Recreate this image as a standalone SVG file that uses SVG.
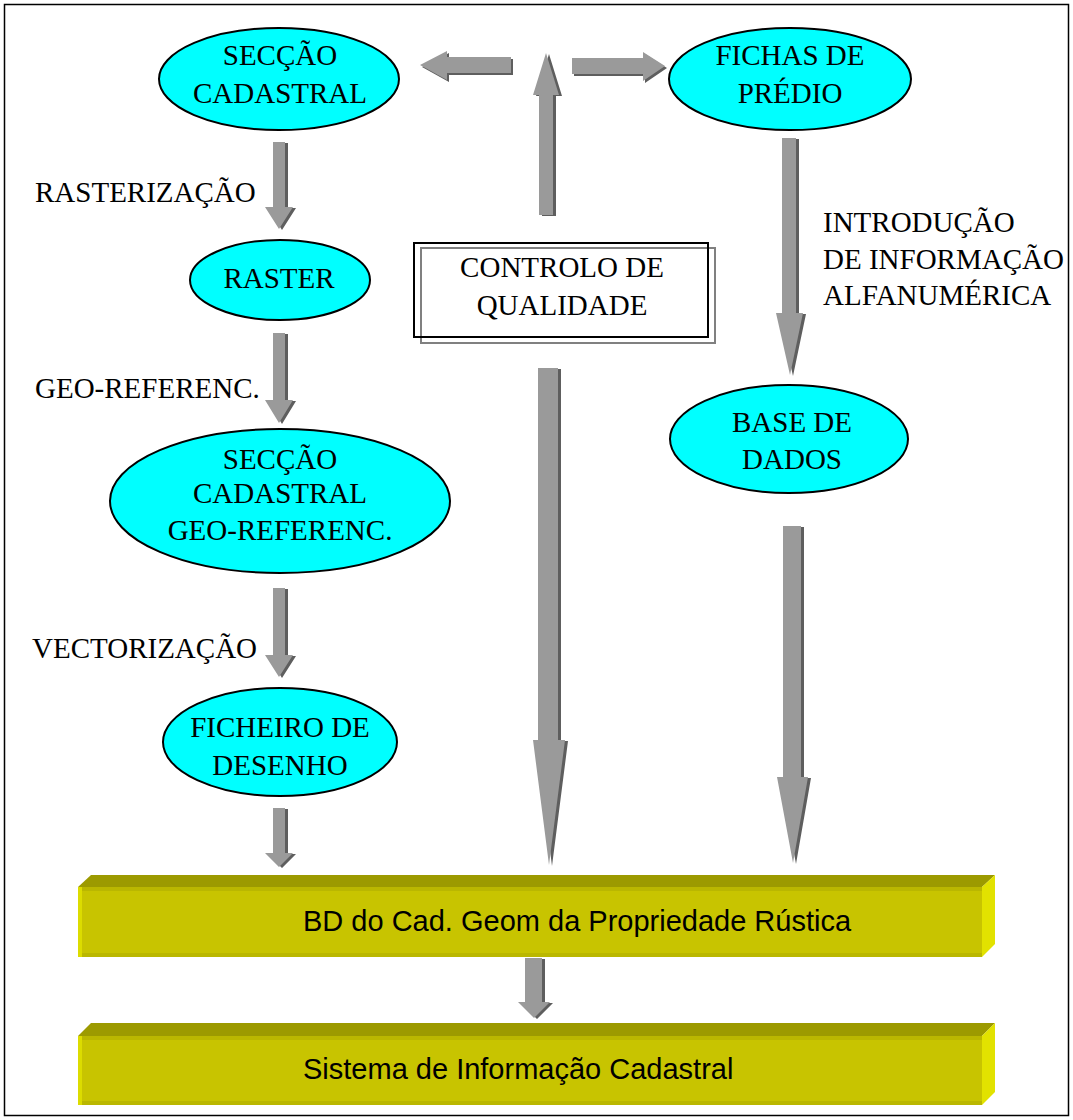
<svg xmlns="http://www.w3.org/2000/svg" width="1073" height="1120" viewBox="0 0 1073 1120">
<style>
.ell{fill:#00ffff;stroke:#000;stroke-width:2}
.t{font-family:"Liberation Serif","Times New Roman",serif;font-size:29px;fill:#000}
.c{text-anchor:middle}
.s{font-family:"Liberation Sans",Arial,sans-serif;font-size:29px;fill:#000}
.sh{fill:#5e5e5e}
.ar{fill:#9a9a9a}
.hl{fill:#c4c4c4}
.top{fill:#9c9a00}
.front{fill:#c8c400}
.side{fill:#e2e200}
.band{fill:#bab700}
.lite{fill:#dcdc00}
</style>
<rect x="0" y="0" width="1073" height="1120" fill="#fff"/>
<rect x="4.5" y="4.5" width="1064" height="1111" fill="none" stroke="#000" stroke-width="1.5"/>

<g id="connectors">
  <!-- SECCAO -> RASTER -->
  <path class="sh" transform="translate(3,1)" d="M273,142 H285 V207 H293 L279,229 L265,207 H273 Z"/>
  <path class="ar" d="M273,142 H285 V207 H293 L279,229 L265,207 H273 Z"/>
  <!-- RASTER -> GEO -->
  <path class="sh" transform="translate(3,1)" d="M273,333 H285 V400 H293 L279,423 L265,400 H273 Z"/>
  <path class="ar" d="M273,333 H285 V400 H293 L279,423 L265,400 H273 Z"/>
  <!-- GEO -> FICHEIRO -->
  <path class="sh" transform="translate(3,1)" d="M273,588 H285 V655 H293 L279,677 L265,655 H273 Z"/>
  <path class="ar" d="M273,588 H285 V655 H293 L279,677 L265,655 H273 Z"/>
  <!-- FICHEIRO -> BD -->
  <path class="sh" transform="translate(3,1)" d="M273,808 H285 V853 H293 L279,867 L265,853 H273 Z"/>
  <path class="ar" d="M273,808 H285 V853 H293 L279,867 L265,853 H273 Z"/>
  <!-- CONTROLO -> BD -->
  <path class="sh" transform="translate(3,1)" d="M538,368 H558 V740 H565 L549,865 L533,740 H538 Z"/>
  <path class="ar" d="M538,368 H558 V740 H565 L549,865 L533,740 H538 Z"/>
  <!-- CONTROLO up -->
  <path class="sh" transform="translate(3,1)" d="M539,215 H553 V95 H559 L546,53 L533,95 H539 Z"/>
  <path class="ar" d="M539,215 H553 V95 H559 L546,53 L533,95 H539 Z"/>
  <!-- left arrow -->
  <path class="sh" transform="translate(2,2)" d="M511,57 V73 H447 V80 L420,65 L447,51 V57 Z"/>
  <path class="ar" d="M511,57 V73 H447 V80 L420,65 L447,51 V57 Z"/>
  <!-- right arrow -->
  <path class="sh" transform="translate(2,2)" d="M572,58 V74 H643 V81 L665,66 L643,52 V58 Z"/>
  <path class="ar" d="M572,58 V74 H643 V81 L665,66 L643,52 V58 Z"/>
  <!-- FICHAS -> BASE -->
  <path class="sh" transform="translate(3,1)" d="M782,138 H796 V313 H803 L790,375 L776,313 H782 Z"/>
  <path class="ar" d="M782,138 H796 V313 H803 L790,375 L776,313 H782 Z"/>
  <!-- BASE -> BD -->
  <path class="sh" transform="translate(3,1)" d="M783,526 H801 V777 H808 L793,863 L777,777 H783 Z"/>
  <path class="ar" d="M783,526 H801 V777 H808 L793,863 L777,777 H783 Z"/>
  <!-- BD -> SIC -->
  <path class="sh" transform="translate(3,1)" d="M525,958 H542 V1002 H550 L534,1018 L518,1002 H525 Z"/>
  <path class="ar" d="M525,958 H542 V1002 H550 L534,1018 L518,1002 H525 Z"/>
</g>

<g id="n-seccao">
  <ellipse class="ell" cx="279" cy="79" rx="120" ry="51"/>
  <text class="t c" x="280" y="65">SECÇÃO</text>
  <text class="t c" x="280" y="103">CADASTRAL</text>
</g>
<g id="n-fichas">
  <ellipse class="ell" cx="790" cy="79" rx="121" ry="51"/>
  <text class="t c" x="790" y="65">FICHAS DE</text>
  <text class="t c" x="790" y="103">PRÉDIO</text>
</g>
<g id="n-raster">
  <ellipse class="ell" cx="280" cy="280" rx="90" ry="40"/>
  <text class="t c" x="279" y="288">RASTER</text>
</g>
<g id="n-geo">
  <ellipse class="ell" cx="280" cy="501" rx="170" ry="72"/>
  <text class="t c" x="280" y="469">SECÇÃO</text>
  <text class="t c" x="280" y="503">CADASTRAL</text>
  <text class="t c" x="280" y="540">GEO-REFERENC.</text>
</g>
<g id="n-ficheiro">
  <ellipse class="ell" cx="280" cy="742" rx="117" ry="54"/>
  <text class="t c" x="280" y="737">FICHEIRO DE</text>
  <text class="t c" x="280" y="775">DESENHO</text>
</g>
<g id="n-base">
  <ellipse class="ell" cx="789" cy="439" rx="119" ry="54"/>
  <text class="t c" x="792" y="432">BASE DE</text>
  <text class="t c" x="792" y="469">DADOS</text>
</g>
<g id="n-controlo">
  <rect x="421" y="248" width="294" height="95" fill="none" stroke="#808080" stroke-width="2"/>
  <rect x="414" y="243" width="294" height="94" fill="none" stroke="#000" stroke-width="2"/>
  <text class="t c" x="562" y="277">CONTROLO DE</text>
  <text class="t c" x="562" y="315">QUALIDADE</text>
</g>

<g id="labels">
  <text class="t" x="35" y="202">RASTERIZAÇÃO</text>
  <text class="t" x="35" y="398">GEO-REFERENC.</text>
  <text class="t" x="32" y="658">VECTORIZAÇÃO</text>
  <text class="t" x="823" y="232">INTRODUÇÃO</text>
  <text class="t" x="823" y="269">DE INFORMAÇÃO</text>
  <text class="t" x="823" y="305">ALFANUMÉRICA</text>
</g>

<g id="n-bd">
  <polygon class="top" points="78,887 91,875 995,875 982,887"/>
  <rect class="front" x="78" y="887" width="904" height="70"/>
  <rect class="band" x="78" y="887" width="904" height="4"/>
  <rect class="band" x="78" y="953" width="904" height="4"/>
  <rect class="lite" x="78" y="887" width="4" height="70"/>
  <polygon class="side" points="982,887 995,875 995,944 982,957"/>
  <text class="s" x="303" y="931">BD do Cad. Geom da Propriedade Rústica</text>
</g>
<g id="n-sic">
  <polygon class="top" points="78,1036 91,1023 995,1023 982,1036"/>
  <rect class="front" x="78" y="1036" width="904" height="69"/>
  <rect class="band" x="78" y="1036" width="904" height="4"/>
  <rect class="band" x="78" y="1101" width="904" height="4"/>
  <rect class="lite" x="78" y="1036" width="4" height="69"/>
  <polygon class="side" points="982,1036 995,1023 995,1092 982,1105"/>
  <text class="s" x="303" y="1079">Sistema de Informação Cadastral</text>
</g>
</svg>
